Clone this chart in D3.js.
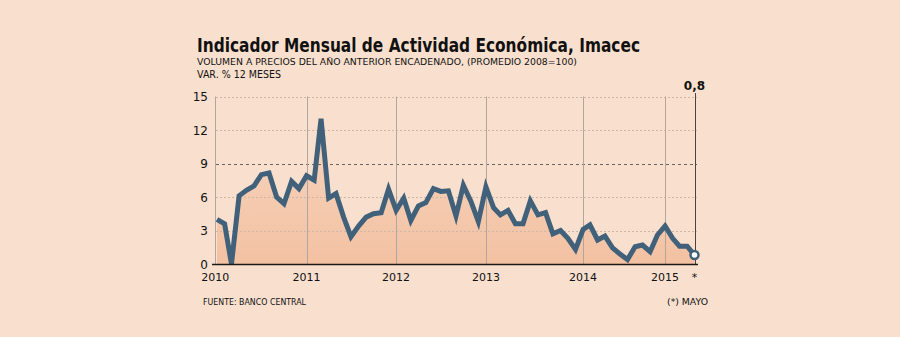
<!DOCTYPE html>
<html>
<head>
<meta charset="utf-8">
<script src="https://cdn.jsdelivr.net/npm/d3@7"></script>
<style>
  html, body { margin: 0; padding: 0; background: #f9e0ce; }
  svg { display: block; }
  text { font-family: "DejaVu Sans", Verdana, sans-serif; fill: #111; }
</style>
</head>
<body>
<div id="chart"></div>
<script>
// Imacec, var. % 12 meses (enero 2010 - mayo 2015)
const imacec2010 = [4.0, 3.6, 0.0, 6.1, 6.6, 7.0, 8.0, 8.15, 6.0, 5.4, 7.4, 6.75];
const imacec2011 = [7.9, 7.5, 13.0, 5.9, 6.3, 4.2, 2.45, 3.4, 4.2, 4.5, 4.6, 6.7];
const imacec2012 = [4.8, 5.9, 3.9, 5.2, 5.5, 6.75, 6.5, 6.55, 4.3, 7.05, 5.6, 3.8];
const imacec2013 = [6.9, 5.05, 4.4, 4.8, 3.6, 3.6, 5.65, 4.4, 4.6, 2.7, 3.0, 2.3];
const imacec2014 = [1.3, 3.1, 3.5, 2.15, 2.5, 1.45, 0.9, 0.4, 1.55, 1.7, 1.1, 2.6];
const imacec2015 = [3.4, 2.3, 1.6, 1.6, 0.8];

const years = [2010, 2011, 2012, 2013, 2014, 2015];
const yTicks = [0, 3, 6, 9, 12, 15];
const xTickLabels = ["2010", "2011", "2012", "2013", "2014", "2015", "*"];
const xTickDates = [new Date(2009, 11, 25), new Date(2011, 0, 1), new Date(2012, 0, 1), new Date(2013, 0, 1),
                    new Date(2014, 1, 1), new Date(2015, 0, 1), new Date(2015, 4, 1)];
const lastLabel = "0,8";

const series = [imacec2010, imacec2011, imacec2012, imacec2013, imacec2014, imacec2015];
const data = [];
series.forEach(function(vals, i) {
    vals.forEach(function(v, m) { data.push({date: new Date(years[i], m, 1), value: v}); });
});

const width = 900, height = 337;
const lineColour = "#41607a";

const svg = d3.select('#chart').append('svg')
    .attr('width', width)
    .attr('height', height);

svg.append('rect')
    .attr('width', width).attr('height', height)
    .attr('fill', '#f9e0ce');

const xScale = d3.scaleTime()
    .domain([data[0].date, data[data.length - 1].date])
    .range([217, 694.5]);

const yScale = d3.scaleLinear()
    .domain([0, 15])
    .range([264, 96.5]);

// gradient for area
const defs = svg.append('defs');
const grad = defs.append('linearGradient')
    .attr('id', 'areaGrad')
    .attr('x1', 0).attr('y1', 0).attr('x2', 0).attr('y2', 1);
grad.append('stop').attr('offset', '0%').attr('stop-color', '#f7d6c0');
grad.append('stop').attr('offset', '100%').attr('stop-color', '#f3c1a2');

// titles
svg.append('text')
    .attr('x', 197).attr('y', 51.5)
    .attr('font-size', 19).attr('font-weight', 'bold')
    .attr('textLength', 443).attr('lengthAdjust', 'spacingAndGlyphs')
    .text('Indicador Mensual de Actividad Económica, Imacec');
svg.append('text')
    .attr('x', 197).attr('y', 65)
    .attr('font-size', 9.5)
    .attr('textLength', 380).attr('lengthAdjust', 'spacingAndGlyphs')
    .text('VOLUMEN A PRECIOS DEL AÑO ANTERIOR ENCADENADO, (PROMEDIO 2008=100)');
svg.append('text')
    .attr('x', 197).attr('y', 78)
    .attr('font-size', 10)
    .attr('textLength', 84).attr('lengthAdjust', 'spacingAndGlyphs')
    .text('VAR. % 12 MESES');

// area
const area = d3.area()
    .x(d => xScale(d.date))
    .y0(yScale(0))
    .y1(d => yScale(d.value));

svg.append('path')
    .datum(data)
    .attr('d', area)
    .attr('fill', 'url(#areaGrad)');

// horizontal grid
svg.append('g')
    .selectAll('line')
    .data(yTicks.filter(t => t > 0))
    .join('line')
    .attr('x1', 216).attr('x2', 697)
    .attr('y1', d => Math.round(yScale(d)) + 0.5)
    .attr('y2', d => Math.round(yScale(d)) + 0.5)
    .attr('stroke', d => d === 9 ? '#6e625a' : '#cdb7a6')
    .attr('stroke-width', 1)
    .attr('stroke-dasharray', d => d === 9 ? '3,3' : '2,2');

// vertical year lines
svg.append('g')
    .selectAll('line')
    .data(xTickDates.slice(0, 6))
    .join('line')
    .attr('x1', d => Math.round(xScale(d)) + 0.5)
    .attr('x2', d => Math.round(xScale(d)) + 0.5)
    .attr('y1', yScale(15))
    .attr('y2', yScale(0))
    .attr('stroke', '#b0a69d')
    .attr('stroke-width', 1);

// end marker line
const lastDate = xTickDates[6];
svg.append('line')
    .attr('x1', Math.round(xScale(lastDate)) + 0.5)
    .attr('x2', Math.round(xScale(lastDate)) + 0.5)
    .attr('y1', 93).attr('y2', yScale(0))
    .attr('stroke', '#4a4440').attr('stroke-width', 1);

// line
const line = d3.line()
    .x(d => xScale(d.date))
    .y(d => yScale(d.value));

svg.append('path')
    .datum(data)
    .attr('d', line)
    .attr('fill', 'none')
    .attr('stroke', lineColour)
    .attr('stroke-width', 5)
    .attr('stroke-linejoin', 'miter');

// x axis line
svg.append('line')
    .attr('x1', 212).attr('x2', 698)
    .attr('y1', yScale(0) + 0.5).attr('y2', yScale(0) + 0.5)
    .attr('stroke', '#1a1a1a').attr('stroke-width', 1.3);

// last point
const last = data[data.length - 1];
svg.append('circle')
    .attr('cx', xScale(last.date)).attr('cy', yScale(last.value))
    .attr('r', 4)
    .attr('fill', '#fff')
    .attr('stroke', lineColour)
    .attr('stroke-width', 2.5);

svg.append('text')
    .attr('x', xScale(last.date)).attr('y', 90)
    .attr('text-anchor', 'middle')
    .attr('font-size', 12).attr('font-weight', 'bold')
    .text(lastLabel);

// y labels
svg.append('g')
    .selectAll('text')
    .data(yTicks)
    .join('text')
    .attr('x', 208)
    .attr('y', d => yScale(d) + 4.5)
    .attr('text-anchor', 'end')
    .attr('font-size', 12)
    .text(d => d);

// x labels
svg.append('g')
    .selectAll('text')
    .data(xTickDates)
    .join('text')
    .attr('x', d => xScale(d))
    .attr('y', 281)
    .attr('text-anchor', 'middle')
    .attr('font-size', 11)
    .text((d, i) => xTickLabels[i]);

// footer
svg.append('text')
    .attr('x', 203).attr('y', 305)
    .attr('font-size', 9.5)
    .attr('textLength', 103).attr('lengthAdjust', 'spacingAndGlyphs')
    .text('FUENTE: BANCO CENTRAL');
svg.append('text')
    .attr('x', 708).attr('y', 305)
    .attr('text-anchor', 'end')
    .attr('font-size', 9.5)
    .attr('textLength', 41).attr('lengthAdjust', 'spacingAndGlyphs')
    .text('(*) MAYO');
</script>
</body>
</html>
